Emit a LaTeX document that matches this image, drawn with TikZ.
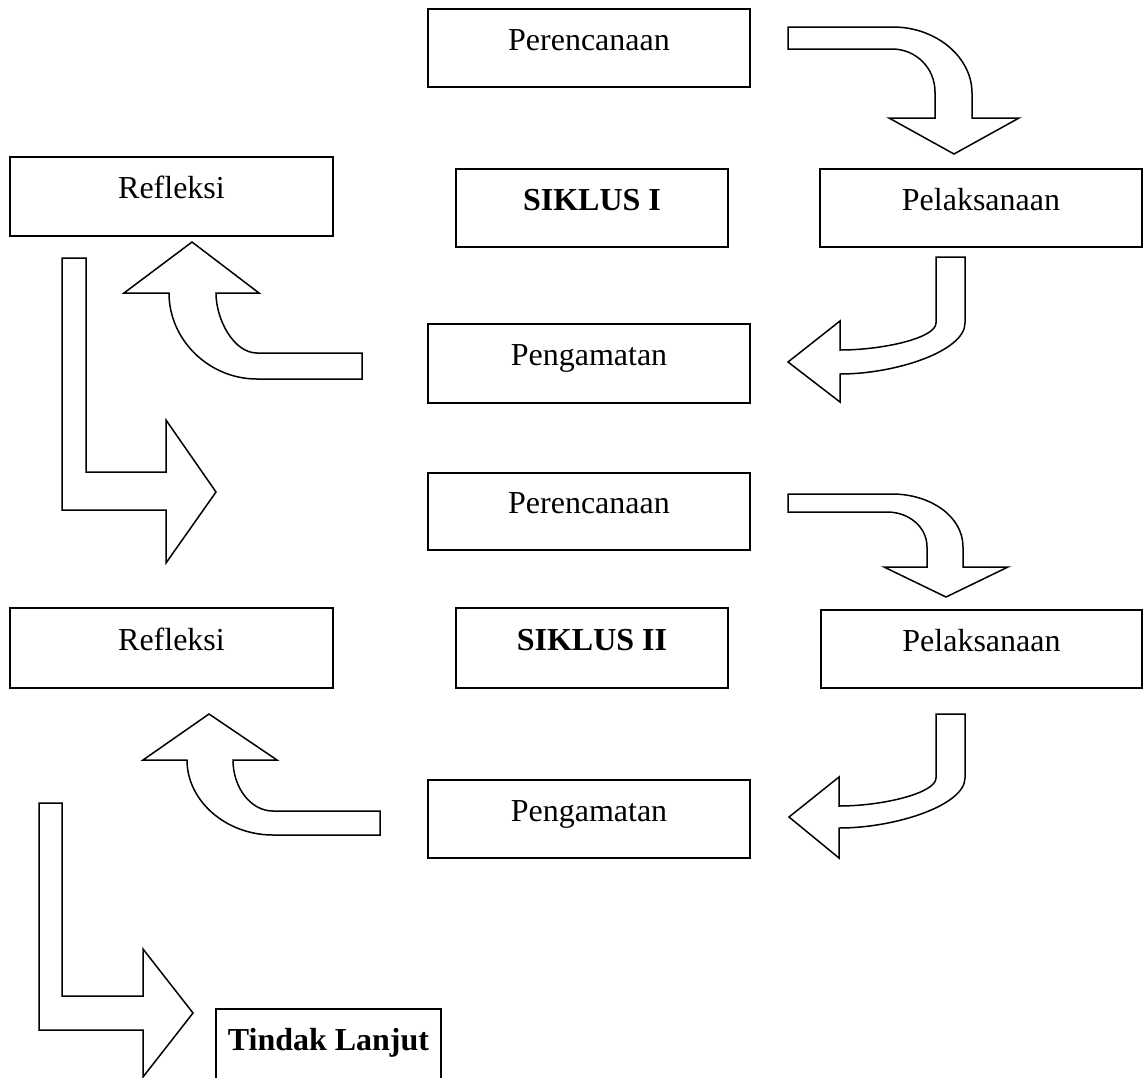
\documentclass[tikz,border=0pt]{standalone}
\usepackage{fontspec}
\setmainfont{Liberation Serif}
\usepackage{tikz}
\usetikzlibrary{calc}

\begin{document}
\begin{tikzpicture}[x=1pt, y=-1pt,
        box/.style={draw, line width=2pt, inner sep=0pt, minimum height=78pt,
            text height=9pt*8/3, text depth=7.5pt*8/3,
            font=\fontsize{32}{38}\selectfont},
        bentarrow/.style={draw, fill=white, line width=1.5pt, line join=miter}]
        \clip (0,0) rectangle (1143,1077);
        \node[box, minimum width=322pt] (per1) at (589,48) {Perencanaan};
        \node[box, minimum width=323pt, minimum height=79pt] (ref1) at (171.5,196.5) {Refleksi};
        \node[box, minimum width=272pt] (sik1) at (592,208) {\bfseries SIKLUS I};
        \node[box, minimum width=322pt] (pel1) at (981,208) {Pelaksanaan};
        \node[box, minimum width=322pt, minimum height=79pt] (pen1) at (589,363.5) {Pengamatan};
        \node[box, minimum width=322pt, minimum height=77pt] (per2) at (589,511.5) {Perencanaan};
        \node[box, minimum width=323pt, minimum height=80pt] (ref2) at (171.5,648) {Refleksi};
        \node[box, minimum width=272pt, minimum height=80pt] (sik2) at (592,648) {\bfseries SIKLUS II};
        \node[box, minimum width=321pt] (pel2) at (981.5,649) {Pelaksanaan};
        \node[box, minimum width=322pt] (pen2) at (589,819) {Pengamatan};
        \node[box, minimum width=225pt] (tl) at (328.5,1048) {\bfseries Tindak Lanjut};
        \draw[bentarrow] (788,27) -- (893,27) .. controls (936,27) and (972,57) .. (972,93)
            -- (972,118) -- (1019,118) -- (954,154) -- (889,118) -- (935,118) -- (935,92)
            .. controls (935,68) and (916,49) .. (892,49) -- (788,49) -- cycle;
        \draw[bentarrow] (936,257) -- (965,257) -- (965,323) .. controls (965,351) and (896,374) .. (840,374)
            -- (840,402) -- (788,362) -- (840,321) -- (840,350)
            .. controls (883,350) and (936,338) .. (936,323) -- cycle;
        \draw[bentarrow] (362,353) -- (257,353) .. controls (234,353) and (216,320) .. (216,293)
            -- (259,293) -- (192,242) -- (124,293) -- (169,293)
            .. controls (169,340) and (209,379) .. (257,379) -- (362,379) -- cycle;
        \draw[bentarrow] (62,258) -- (86,258) -- (86,472) -- (166,472) -- (166,420) -- (216,492)
            -- (166,563) -- (166,510) -- (62,510) -- cycle;
        \draw[bentarrow] (788,494) -- (892,494) .. controls (930,494) and (963,516) .. (963,547)
            -- (963,567) -- (1008,567) -- (946,597) -- (884,567) -- (927,567) -- (927,547)
            .. controls (927,527) and (909,512) .. (887,512) -- (788,512) -- cycle;
        \draw[bentarrow] (936,714) -- (965,714) -- (965,778) .. controls (965,805) and (896,828) .. (839,828)
            -- (839,858) -- (789,817) -- (839,777) -- (839,806)
            .. controls (883,806) and (936,793) .. (936,778) -- cycle;
        \draw[bentarrow] (380,811) -- (273,811) .. controls (251,811) and (233,788) .. (233,760)
            -- (277,760) -- (209,714) -- (143,760) -- (187,760)
            .. controls (187,801) and (226,835) .. (273,835) -- (380,835) -- cycle;
        \draw[bentarrow] (39,803) -- (62,803) -- (62,996) -- (143,996) -- (143,949) -- (193,1013)
            -- (143,1077) -- (143,1030) -- (39,1030) -- cycle;
    \end{tikzpicture}
\end{document}
